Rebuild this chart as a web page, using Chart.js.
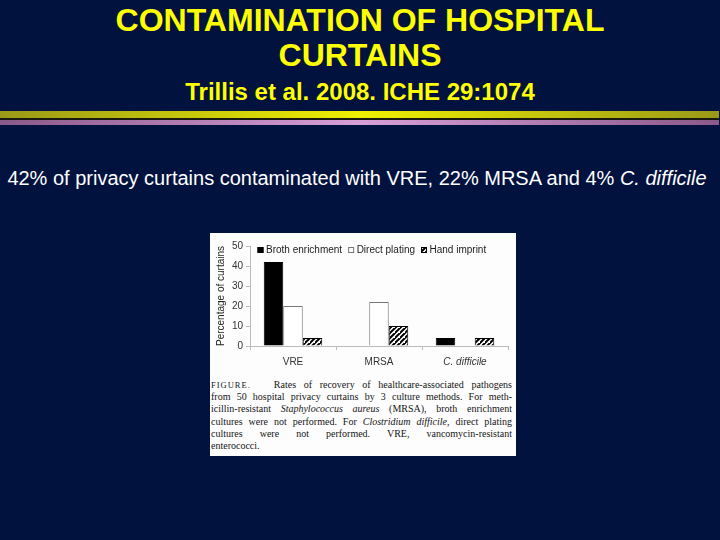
<!DOCTYPE html>
<html><head><meta charset="utf-8">
<script src="https://cdn.jsdelivr.net/npm/chart.js@4.4.1/dist/chart.umd.min.js"></script>
<style>
html,body{margin:0;padding:0;}
body{width:720px;height:540px;background:#02123f;position:relative;overflow:hidden;font-family:"Liberation Sans",Arial,sans-serif;}
.t{position:absolute;left:0;width:720px;text-align:center;color:#ffff00;font-weight:bold;white-space:nowrap;}
#t1{top:4px;font-size:32px;line-height:32px;}
#t2{top:39px;font-size:32px;line-height:32px;}
#t3{top:80px;font-size:24px;line-height:24px;}
#bandY{position:absolute;left:0;top:111px;width:719px;height:7px;background:linear-gradient(to right,#9a9a18,#f0f000 50%,#9a9a18);}
#bandK{position:absolute;left:0;top:118px;width:719px;height:2px;background:#1a1a10;}
#bandP{position:absolute;left:0;top:120px;width:719px;height:5px;background:linear-gradient(to right,#8a5a8a,#d8a0d8 50%,#8a5a8a);}
#cap{position:absolute;left:0;top:168px;width:714px;text-align:center;color:#fff;font-size:20px;line-height:20px;white-space:nowrap;}
#fig{position:absolute;left:210px;top:233px;width:306px;height:223px;background:#fdfdfd;}
#cv{position:absolute;left:0;top:0;}
#fc{position:absolute;left:1px;top:146px;width:301px;font-family:"Liberation Serif","Times New Roman",serif;font-size:10px;line-height:12.2px;color:#151515;}
#fc div{text-align:justify;text-align-last:justify;white-space:nowrap;}
#fc div.last{text-align-last:left;}
.sc{font-variant:small-caps;font-size:8.5px;letter-spacing:1px;}
</style></head>
<body>
<div class="t" id="t1">CONTAMINATION OF HOSPITAL</div>
<div class="t" id="t2">CURTAINS</div>
<div class="t" id="t3">Trillis et al. 2008. ICHE 29:1074</div>
<div id="bandY"></div><div id="bandK"></div><div id="bandP"></div>
<div id="cap">42% of privacy curtains contaminated with VRE, 22% MRSA and 4% <i>C. difficile</i></div>
<div id="fig">
<canvas id="cv" width="306" height="140"></canvas>
<div id="fc">
<div><span class="sc">FIGURE.</span>&nbsp;&nbsp; Rates of recovery of healthcare-associated pathogens</div>
<div>from 50 hospital privacy curtains by 3 culture methods. For meth-</div>
<div>icillin-resistant <i>Staphylococcus aureus</i> (MRSA), broth enrichment</div>
<div>cultures were not performed. For <i>Clostridium difficile</i>, direct plating</div>
<div>cultures were not performed. VRE, vancomycin-resistant</div>
<div class="last">enterococci.</div>
</div>
</div>
<script>
const categories = ['VRE', 'MRSA', 'C. difficile'];
const seriesNames = ['Broth enrichment', 'Direct plating', 'Hand imprint'];
const brothEnrichment = [42, null, 4];
const directPlating = [20, 22, null];
const handImprint = [4, 10, 4];
const yMin = 0, yMax = 50, yStep = 10;
const yTitle = 'Percentage of curtains';

function hatch() {
  const s = 5;
  const c = document.createElement('canvas');
  c.width = s; c.height = s;
  const g = c.getContext('2d');
  g.fillStyle = '#fff'; g.fillRect(0, 0, s, s);
  g.strokeStyle = '#000'; g.lineWidth = 2;
  g.beginPath();
  g.moveTo(-1, s + 1); g.lineTo(s + 1, -1);
  g.moveTo(-1 - s, s + 1); g.lineTo(1, -1);
  g.moveTo(s - 1, 2 * s + 1); g.lineTo(2 * s + 1, s - 1);
  g.stroke();
  return g.createPattern(c, 'repeat');
}
const FONT = '"Liberation Sans", Arial, sans-serif';

const insideLegend = {
  id: 'insideLegend',
  afterDraw(chart) {
    const { ctx, chartArea } = chart;
    ctx.save();
    ctx.font = '10px ' + FONT;
    ctx.textBaseline = 'middle';
    let x = chartArea.left + 7.5;
    const y = chartArea.top + 4;
    const b = 6;
    chart.data.datasets.forEach(ds => {
      ctx.fillStyle = ds.backgroundColor;
      ctx.fillRect(x, y - b / 2, b, b);
      ctx.strokeStyle = ds.borderColor; ctx.lineWidth = 1;
      ctx.strokeRect(x + 0.5, y - b / 2 + 0.5, b - 1, b - 1);
      x += b + 2.5;
      ctx.fillStyle = '#1a1a1a';
      ctx.fillText(ds.label, x, y);
      x += ctx.measureText(ds.label).width + 6;
    });
    ctx.restore();
  }
};

const pat = hatch();
new Chart(document.getElementById('cv'), {
  type: 'bar',
  data: {
    labels: categories,
    datasets: [
      { label: seriesNames[0], data: brothEnrichment, backgroundColor: '#000', borderColor: '#000', borderWidth: 1 },
      { label: seriesNames[1], data: directPlating, backgroundColor: '#fff', borderColor: '#777', borderWidth: 1 },
      { label: seriesNames[2], data: handImprint, backgroundColor: pat, borderColor: '#000', borderWidth: 1 }
    ]
  },
  options: {
    responsive: false,
    devicePixelRatio: 1,
    animation: false,
    layout: { padding: { top: 13, right: 8, left: 0, bottom: 0 } },
    datasets: { bar: { categoryPercentage: 0.68, barPercentage: 1 } },
    plugins: { legend: { display: false }, tooltip: { enabled: false } },
    scales: {
      x: {
        grid: { display: true, drawOnChartArea: false, drawTicks: true, tickLength: 4, color: '#bbb', offset: true },
        border: { color: '#bbb' },
        ticks: {
          color: '#333', padding: 6,
          font: (ctx) => ({ family: FONT, size: 10, style: ctx.index === 2 ? 'italic' : 'normal' })
        },
        afterFit: (s) => { s.height = 27; }
      },
      y: {
        min: yMin, max: yMax,
        ticks: { stepSize: yStep, color: '#333', padding: 3, font: { family: FONT, size: 10 } },
        grid: { drawOnChartArea: false, tickLength: 4, color: '#bbb' },
        border: { color: '#bbb' },
        title: { display: true, text: yTitle, color: '#222', font: { family: FONT, size: 10 }, padding: { top: 5, bottom: 0 } },
        afterFit: (s) => { s.width = 40; }
      }
    }
  },
  plugins: [insideLegend]
});
</script>
</body></html>
